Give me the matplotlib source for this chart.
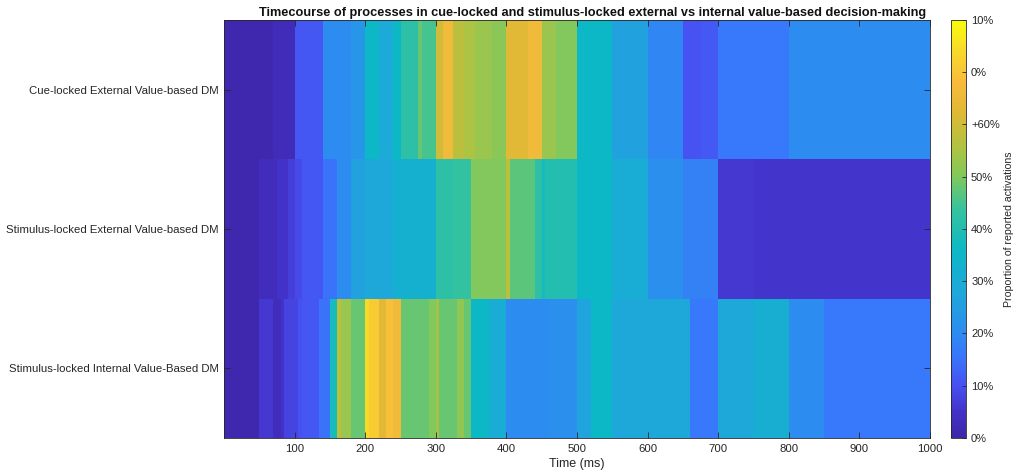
import numpy as np
import matplotlib
matplotlib.use("Agg")
import matplotlib.pyplot as plt
from matplotlib.colors import LinearSegmentedColormap, Normalize

plt.rcParams['font.family'] = ['Liberation Sans', 'DejaVu Sans']

# condition labels, top to bottom
conditions = [
    "Cue-locked External Value-based DM",
    "Stimulus-locked External Value-based DM",
    "Stimulus-locked Internal Value-Based DM",
]

# segment edges (ms) and proportion of reported activations (%) per condition
cue_ext_edges = [0, 70, 100, 140, 180, 200, 220, 240, 250, 275, 280, 300, 310, 325,
                 340, 355, 380, 400, 430, 450, 470, 500, 550, 600, 650, 675, 700, 800, 1000]
cue_ext_vals = [1, 2.5, 11, 20, 23, 36, 29, 36, 42, 48, 45, 60, 66, 57,
                55, 53, 51, 63, 66, 53, 50, 36, 26, 19, 10.5, 11.5, 16, 20]

stim_ext_edges = [0, 50, 75, 90, 100, 110, 140, 160, 180, 200, 240, 300, 325, 350,
                  400, 405, 440, 450, 455, 500, 550, 600, 650, 700, 750, 1000]
stim_ext_vals = [1, 3, 5, 7, 9, 11, 15, 20, 26, 28, 32, 42, 43,
                 50, 57, 47, 42, 38, 40, 36, 30, 21, 18, 6, 5.5]

stim_int_edges = [0, 50, 70, 80, 85, 105, 110, 135, 150, 160, 165, 180, 200, 205,
                  220, 230, 240, 250, 290, 300, 305, 330, 340, 350, 375, 400, 460,
                  500, 520, 550, 660, 700, 750, 800, 850, 1000]
stim_int_vals = [1, 6, 3, 5, 8, 10, 11, 15, 38, 57, 53, 48, 74,
                 71, 63, 69, 66, 48, 50, 54, 48, 52, 48, 36, 30, 20,
                 21, 27, 36, 28, 16, 28, 31, 20, 16]

rows = [(cue_ext_edges, cue_ext_vals),
        (stim_ext_edges, stim_ext_vals),
        (stim_int_edges, stim_int_vals)]

cbar_ticks = [0, 10, 20, 30, 40, 50, 60, 70, 80]
cbar_labels = ['0%', '10%', '20%', '30%', '40%', '50%', '+60%', '0%', '10%']
x_ticks = [100, 200, 300, 400, 500, 600, 700, 800, 900, 1000]

# parula-like colormap
parula_pts = [
    (0.000, '#3e26a8'),
    (0.060, '#4331c8'),
    (0.125, '#4751f2'),
    (0.200, '#3878fa'),
    (0.250, '#2d8cf0'),
    (0.350, '#1ea8da'),
    (0.450, '#0cb8c6'),
    (0.550, '#38c39c'),
    (0.630, '#84c85a'),
    (0.700, '#b2c240'),
    (0.780, '#dfb935'),
    (0.850, '#f8ba3c'),
    (0.920, '#f8d72c'),
    (1.000, '#f9fb0e'),
]
parula = LinearSegmentedColormap.from_list('parula', parula_pts)
norm = Normalize(vmin=0, vmax=80)

fig = plt.figure(figsize=(10.16, 4.74), dpi=100)
ax = fig.add_axes([0.2205, 0.076, 0.6949, 0.882])
cax = fig.add_axes([0.936, 0.076, 0.0150, 0.882])

for i, (edges, vals) in enumerate(rows):
    r = i + 1
    mesh = ax.pcolormesh(np.array(edges), [r - 0.5, r + 0.5], np.array([vals]),
                         cmap=parula, norm=norm, linewidth=0, antialiased=False)

ax.set_xlim(0, 1000)
ax.set_ylim(3.5, 0.5)
ax.set_xticks(x_ticks)
ax.set_yticks([1, 2, 3])
ax.set_yticklabels(conditions)
ax.tick_params(direction='in', length=4, width=0.6, colors='#262626',
               labelsize=8.2, top=True, right=True, pad=4)
for s in ax.spines.values():
    s.set_color('#262626')
    s.set_linewidth(0.6)
ax.set_xlabel('Time (ms)', fontsize=9, color='#262626', labelpad=3)
ax.set_title('Timecourse of processes in cue-locked and stimulus-locked external vs internal value-based decision-making',
             fontsize=9.2, fontweight='bold', color='#111111', pad=3, x=0.522)

cb = fig.colorbar(mesh, cax=cax, ticks=cbar_ticks)
cb.ax.set_yticklabels(cbar_labels)
cb.ax.tick_params(direction='in', length=3, width=0.6, colors='#262626', labelsize=8)
cb.outline.set_linewidth(0.6)
cb.outline.set_edgecolor('#262626')
cb.set_label('Proportion of reported activations', fontsize=7.6, color='#262626', labelpad=3)

fig.savefig('out.png', dpi=100)
